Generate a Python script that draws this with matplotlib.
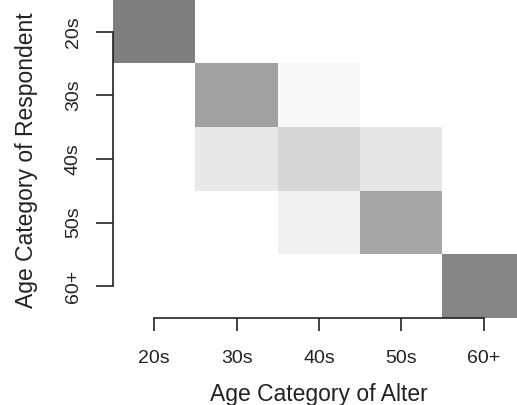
"""Age mixing heatmap

Draws a grey-scale heatmap of respondent age category against
alter age category, in the style of an R image() plot.
"""

import matplotlib
matplotlib.use("Agg")
import matplotlib.pyplot as plt
from matplotlib.colors import LinearSegmentedColormap
import numpy as np

### DATA ####
alter_categories = ["20s", "30s", "40s", "50s", "60+"]
respondent_categories = ["20s", "30s", "40s", "50s", "60+"]
# share of ties, one row per respondent category (0 = white, 1 = black)
row_20s = [0.50, 0.00, 0.00, 0.00, 0.00]
row_30s = [0.00, 0.37, 0.03, 0.00, 0.00]
row_40s = [0.00, 0.09, 0.16, 0.10, 0.00]
row_50s = [0.00, 0.00, 0.06, 0.35, 0.00]
row_60s = [0.00, 0.00, 0.00, 0.00, 0.48]
#############


def draw_heatmap():
    """Creates the heatmap figure and saves it as out.png"""
    values = np.array([row_20s, row_30s, row_40s, row_50s, row_60s])
    cmap = LinearSegmentedColormap.from_list("wb", ["white", "black"])

    fig = plt.figure(figsize=(5.17, 4.05), dpi=100)
    # axes run past the right edge on purpose: the last column is cut off
    ax = fig.add_axes([113 / 517, 87 / 405, 412 / 517, 318 / 405])
    ax.imshow(values, cmap=cmap, vmin=0, vmax=1, aspect="auto",
              interpolation="nearest")
    ax.set_xlim(-0.5, 4.5)
    ax.set_ylim(4.5, -0.5)

    for side in ["top", "right"]:
        ax.spines[side].set_visible(False)
    ax.spines["left"].set_bounds(0, 4)
    ax.spines["bottom"].set_bounds(0, 4)
    for side in ["left", "bottom"]:
        ax.spines[side].set_linewidth(1.2)
        ax.spines[side].set_color("#222222")

    font = ["Liberation Sans", "DejaVu Sans"]
    ax.set_xticks(range(len(alter_categories)))
    ax.set_xticklabels(alter_categories, fontsize=14, family=font, color="#222222")
    ax.set_yticks(range(len(respondent_categories)))
    ax.set_yticklabels(respondent_categories, fontsize=14, family=font,
                       rotation=90, va="center", color="#222222")
    ax.tick_params(axis="x", length=9.5, width=1.2, pad=13.5, color="#222222")
    ax.tick_params(axis="y", length=12, width=1.2, pad=10.5, color="#222222")

    fig.text(319 / 517, 1 - 394 / 405, "Age Category of Alter", fontsize=16.5,
             family=font, ha="center", va="center", color="#222222")
    fig.text(27 / 517, 1 - 160 / 405, "Age Category of Respondent", fontsize=16.5,
             family=font, ha="center", va="center", rotation=90, color="#222222")

    fig.savefig("out.png", dpi=100)


if __name__ == "__main__":
    draw_heatmap()
